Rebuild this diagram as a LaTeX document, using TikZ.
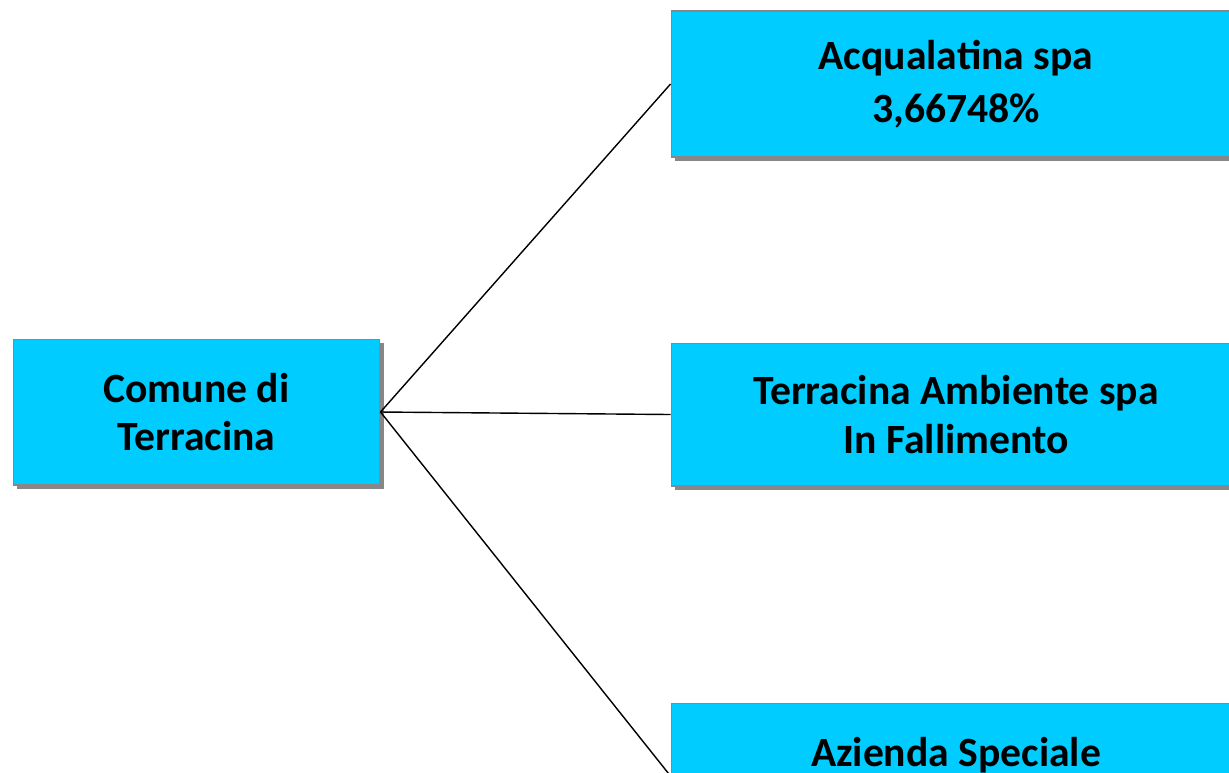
\documentclass[tikz,border=0pt]{standalone}
\usepackage{fontspec}
\setmainfont{Carlito}
\usetikzlibrary{positioning, shadows}
\definecolor{boxcyan}{HTML}{00CCFF}
\definecolor{boxgray}{HTML}{878787}

\begin{document}
\begin{tikzpicture}[
      x=0.02cm, y=-0.02cm,
      entity/.style={draw=boxgray, line width=0.6pt, fill=boxcyan, rectangle, align=center,
        font=\fontsize{23.7}{27.5}\selectfont\bfseries,
        drop shadow={shadow xshift=0.08cm, shadow yshift=-0.08cm, fill=boxgray, opacity=1}},
      link/.style={black, line width=0.8pt}
    ]
      \useasboundingbox (0,0) rectangle (1229,772);
      \clip (0,0) rectangle (1229,772);
      \node[entity, minimum width=7.34cm, minimum height=2.92cm] (comune) at (196.5,412) {Comune di\\Terracina};
      \node[entity, minimum width=11.4cm, minimum height=2.92cm, font=\fontsize{23.7}{30}\selectfont\bfseries] (acqua) at (956,84) {Acqualatina spa\\3,66748\%};
      \node[entity, minimum width=11.4cm, minimum height=2.86cm] (ambiente) at (956,414.5) {Terracina Ambiente spa\\In Fallimento};
      \node[entity, minimum width=11.4cm, minimum height=2.92cm] (azienda) at (956,776) {Azienda Speciale\\\phantom{X}};

      \draw[link] (comune.east) -- (acqua.west);
      \draw[link] (comune.east) -- (ambiente.west);
      \draw[link] (comune.east) -- (azienda.west);
    \end{tikzpicture}
\end{document}
